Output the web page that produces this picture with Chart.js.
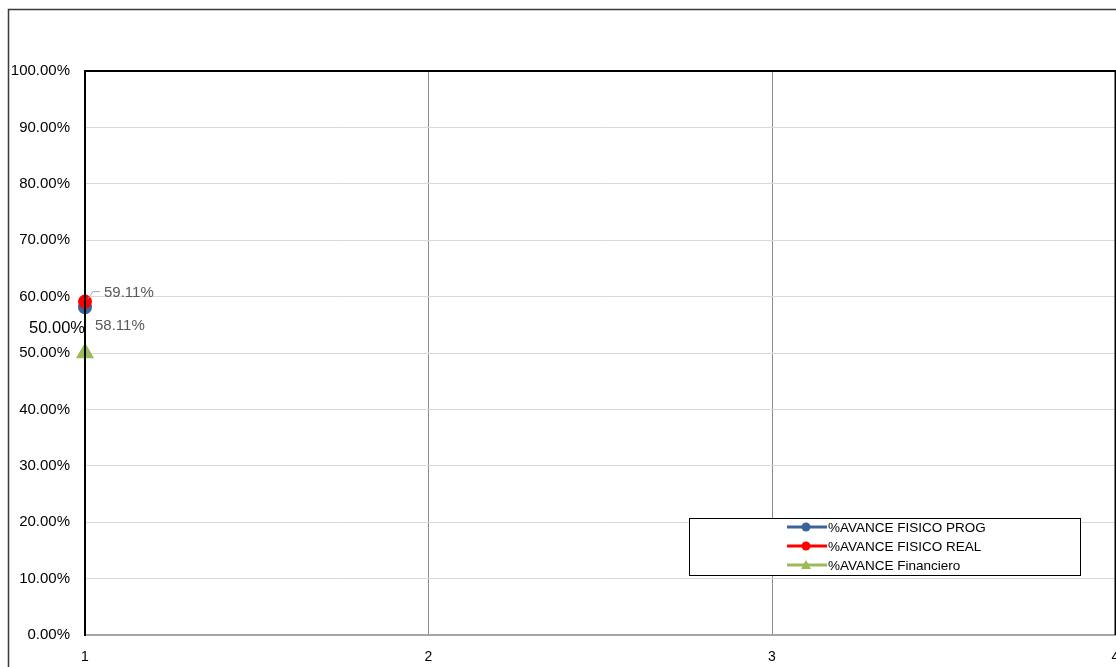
<!doctype html>
<html lang="es">
    <head>
        <meta charset="utf-8" />
        <title>Avance</title>
        <script src="https://cdn.jsdelivr.net/npm/chart.js@4/dist/chart.umd.min.js"></script>
        <style>
            html, body { margin: 0; padding: 0; background: #fff; overflow: hidden; }
            #wrap { width: 1126px; height: 667px; }
        </style>
    </head>
    <body>
        <div id="wrap">
            <canvas id="myChart"></canvas>
        </div>

        <script>
            // dati del grafico
            const categorie = [1];
            const avanceProg = [0.5811];
            const avanceReal = [0.5911];
            const avanceFin = [0.50];
            const nomiSerie = ['%AVANCE FISICO PROG', '%AVANCE FISICO REAL', '%AVANCE Financiero'];
            const coloriSerie = ['#3d6499', '#ff0000', '#9bbb59'];
            const xTicks = [1, 2, 3, 4];
            const yTicks = [0, 0.1, 0.2, 0.3, 0.4, 0.5, 0.6, 0.7, 0.8, 0.9, 1.0];

            const FONT = '"Liberation Sans", Arial, sans-serif';

            function punti(valori) {
                return categorie.map((c, i) => ({x: c, y: valori[i]}));
            }

            function pct(v) {
                return (v * 100).toFixed(2) + '%';
            }

            // cornice esterna, bordo area grafico, etichette dati e legenda
            const decorazioni = {
                id: 'decorazioni',
                afterDraw(chart) {
                    const ctx = chart.ctx;
                    const a = chart.chartArea;
                    ctx.save();

                    // cornice esterna
                    ctx.strokeStyle = '#3a3a3a';
                    ctx.lineWidth = 1.5;
                    ctx.strokeRect(8.5, 9.5, 2000, 2000);

                    // bordo area grafico
                    ctx.strokeStyle = '#000';
                    ctx.lineWidth = 2;
                    ctx.beginPath();
                    ctx.moveTo(a.left, a.bottom);
                    ctx.lineTo(a.left, a.top);
                    ctx.lineTo(a.right, a.top);
                    ctx.lineTo(a.right, a.bottom);
                    ctx.stroke();

                    // etichette dati
                    const pProg = chart.getDatasetMeta(0).data[0];
                    const pReal = chart.getDatasetMeta(1).data[0];
                    const pFin = chart.getDatasetMeta(2).data[0];

                    ctx.textBaseline = 'middle';
                    ctx.textAlign = 'left';
                    ctx.font = '15px ' + FONT;
                    ctx.fillStyle = '#595959';
                    ctx.fillText(pct(avanceProg[0]), pProg.x + 10, pProg.y + 19);

                    ctx.strokeStyle = '#a6a6a6';
                    ctx.lineWidth = 1;
                    ctx.beginPath();
                    ctx.moveTo(pReal.x + 3, pReal.y - 3);
                    ctx.lineTo(pReal.x + 8, pReal.y - 10);
                    ctx.lineTo(pReal.x + 15, pReal.y - 10);
                    ctx.stroke();
                    ctx.fillText(pct(avanceReal[0]), pReal.x + 19, pReal.y - 9);

                    ctx.font = '16.5px ' + FONT;
                    ctx.fillStyle = '#000';
                    ctx.textAlign = 'center';
                    ctx.fillText(pct(avanceFin[0]), pFin.x - 28, pFin.y - 25);

                    // legenda
                    const lx = 689.5, ly = 518.5, lw = 391, lh = 57;
                    ctx.fillStyle = '#fff';
                    ctx.fillRect(lx, ly, lw, lh);
                    ctx.strokeStyle = '#000';
                    ctx.lineWidth = 1;
                    ctx.strokeRect(lx, ly, lw, lh);
                    ctx.font = '13.5px ' + FONT;
                    ctx.textAlign = 'left';
                    nomiSerie.forEach((nome, i) => {
                        const y = 527 + i * 19;
                        ctx.strokeStyle = coloriSerie[i];
                        ctx.fillStyle = coloriSerie[i];
                        ctx.lineWidth = 3;
                        ctx.beginPath();
                        ctx.moveTo(787, y);
                        ctx.lineTo(827, y);
                        ctx.stroke();
                        ctx.beginPath();
                        if (i === 2) {
                            ctx.moveTo(806, y - 5);
                            ctx.lineTo(811, y + 4);
                            ctx.lineTo(801, y + 4);
                            ctx.closePath();
                        } else {
                            ctx.arc(806, y, 4.5, 0, Math.PI * 2);
                        }
                        ctx.fill();
                        ctx.fillStyle = '#000';
                        ctx.fillText(nome, 828, y + 1);
                    });
                    ctx.restore();
                }
            };

            const mychart = new Chart(document.getElementById('myChart'), {
                type: 'line',
                data: {
                    datasets: [{
                        label: nomiSerie[0],
                        data: punti(avanceProg),
                        borderColor: coloriSerie[0],
                        backgroundColor: coloriSerie[0],
                        borderWidth: 3,
                        pointRadius: 5.5,
                        pointStyle: 'circle',
                        clip: false,
                        order: 2
                    }, {
                        label: nomiSerie[1],
                        data: punti(avanceReal),
                        borderColor: coloriSerie[1],
                        backgroundColor: coloriSerie[1],
                        borderWidth: 3,
                        pointRadius: 5.5,
                        pointStyle: 'circle',
                        clip: false,
                        order: 1
                    }, {
                        label: nomiSerie[2],
                        data: punti(avanceFin),
                        borderColor: coloriSerie[2],
                        backgroundColor: coloriSerie[2],
                        borderWidth: 3,
                        pointRadius: 7.5,
                        pointStyle: 'triangle',
                        clip: false,
                        order: 3
                    }]
                },
                options: {
                    responsive: true,
                    maintainAspectRatio: false,
                    animation: false,
                    layout: {
                        padding: {top: 71, right: 1, left: 0, bottom: 0}
                    },
                    scales: {
                        x: {
                            type: 'linear',
                            min: xTicks[0],
                            max: xTicks[xTicks.length - 1],
                            afterBuildTicks: s => { s.ticks = xTicks.map(v => ({value: v})); },
                            afterFit: s => { s.height = 32; s.paddingLeft = 0; s.paddingRight = 0; },
                            grid: {color: '#8c8c8c', lineWidth: 1, drawTicks: false},
                            border: {color: '#a6a6a6', width: 2},
                            ticks: {
                                color: '#000',
                                padding: 14,
                                font: {family: FONT, size: 14},
                                maxRotation: 0
                            }
                        },
                        y: {
                            type: 'linear',
                            min: 0,
                            max: 1,
                            afterBuildTicks: s => { s.ticks = yTicks.map(v => ({value: v})); },
                            afterFit: s => { s.width = 85; s.paddingTop = 0; s.paddingBottom = 0; },
                            grid: {color: '#d9d9d9', lineWidth: 1, drawTicks: false},
                            border: {color: '#000', width: 2},
                            ticks: {
                                color: '#000',
                                padding: 15,
                                font: {family: FONT, size: 15},
                                callback: v => pct(v)
                            }
                        }
                    },
                    plugins: {
                        legend: {display: false},
                        tooltip: {enabled: false}
                    }
                },
                plugins: [decorazioni]
            });
        </script>
    </body>
</html>
